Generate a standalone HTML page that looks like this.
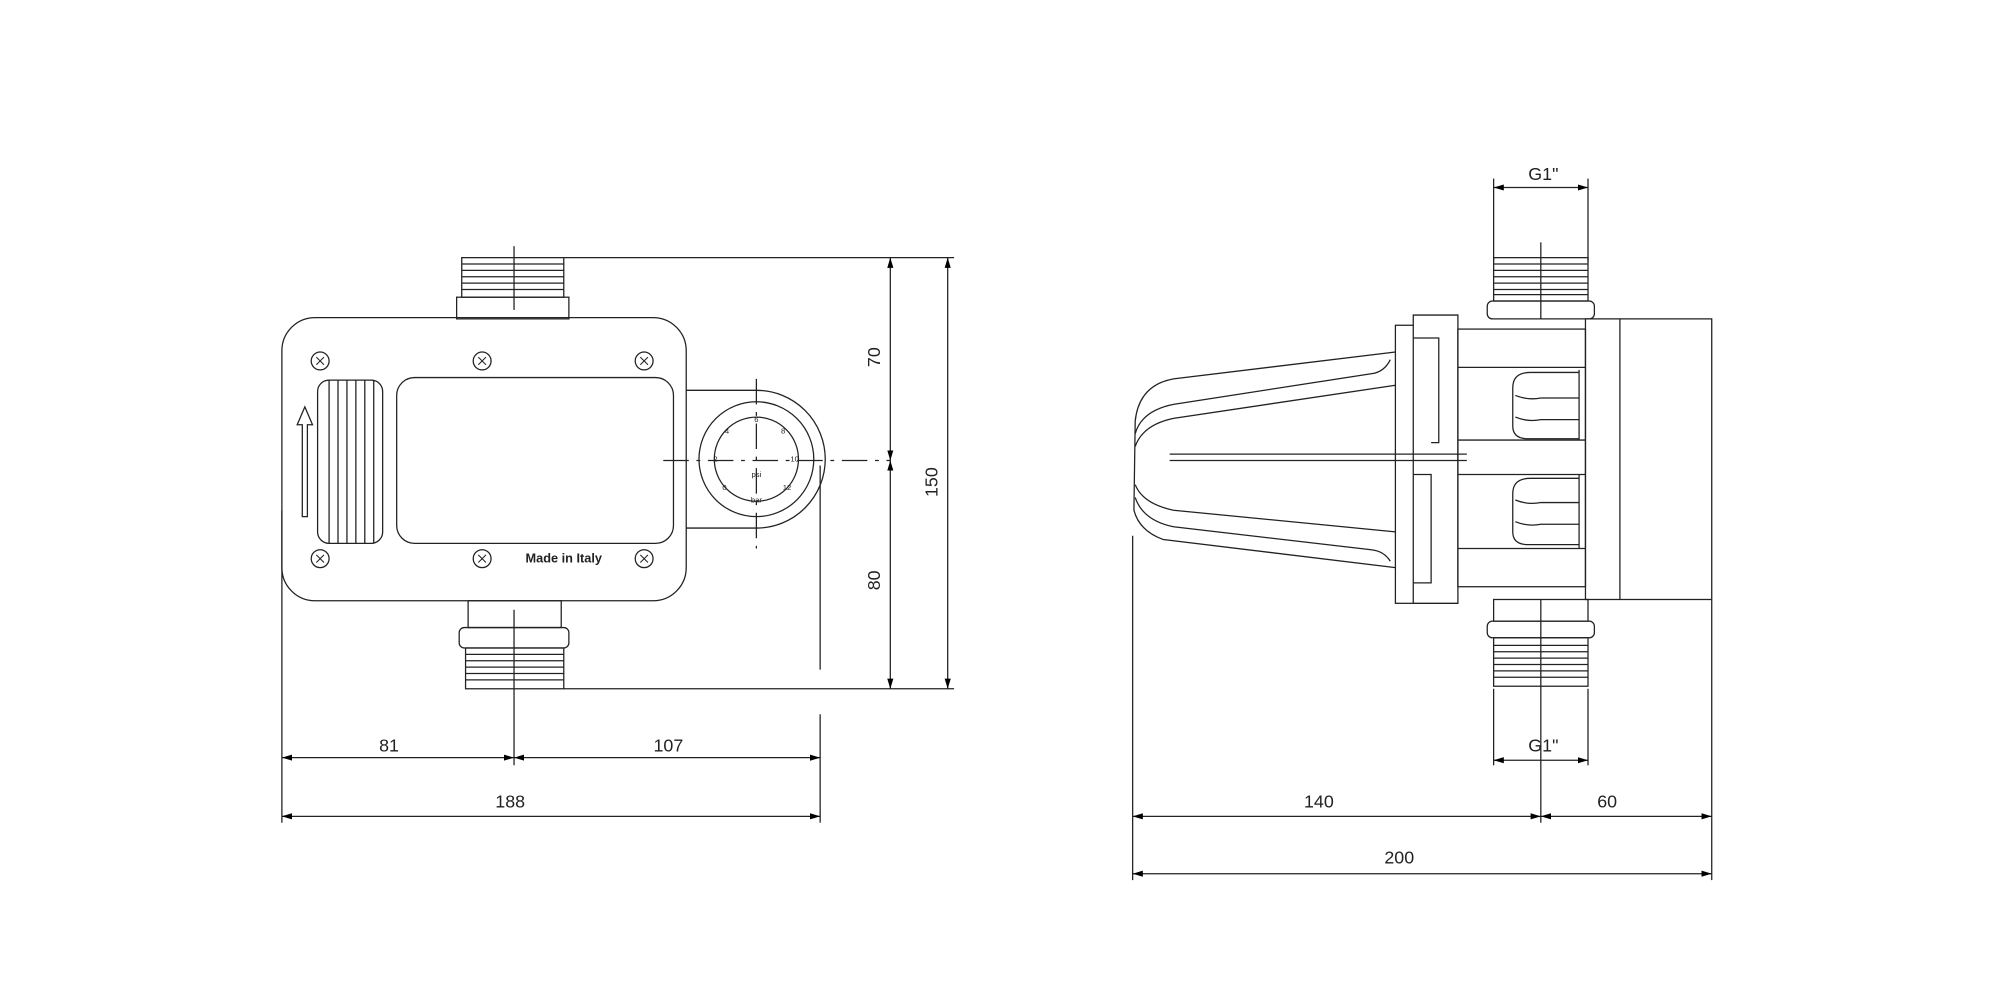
<!DOCTYPE html>
<html><head><meta charset="utf-8"><style>html,body{margin:0;padding:0;background:#fff}svg{display:block}</style></head><body>
<svg width="2000" height="1000" viewBox="0 0 1568 784" xmlns="http://www.w3.org/2000/svg" font-family="Liberation Sans, sans-serif">
<defs>
<marker id="a" viewBox="0 0 10 10" refX="10" refY="5" markerWidth="8" markerHeight="8" orient="auto-start-reverse" markerUnits="userSpaceOnUse"><path d="M0,2 L10,5 L0,8 z" fill="#000"/></marker>
</defs>
<g fill="none" stroke="#222" stroke-width="1">
<!-- LEFT VIEW -->
<!-- top thread -->
<rect x="358" y="233" width="88" height="17"/>
<rect x="362" y="202" width="80" height="31"/>
<path d="M362 207h80M362 212h80M362 217h80M362 222h80M362 227h80"/>
<line x1="403" y1="193" x2="403" y2="243"/>
<!-- body -->
<rect x="221" y="249" width="317" height="222" rx="26"/>
<g>
<circle cx="251" cy="283" r="7"/><circle cx="378" cy="283" r="7"/><circle cx="505" cy="283" r="7"/>
<circle cx="251" cy="438" r="7"/><circle cx="378" cy="438" r="7"/><circle cx="505" cy="438" r="7"/>
</g>
<g stroke-width="0.8">
<path d="M248 280l6 6M254 280l-6 6M375 280l6 6M381 280l-6 6M502 280l6 6M508 280l-6 6M248 435l6 6M254 435l-6 6M375 435l6 6M381 435l-6 6M502 435l6 6M508 435l-6 6"/>
</g>
<rect x="249" y="298" width="51" height="128" rx="9"/>
<path d="M258 298v128M265 298v128M272 298v128M279 298v128M286 298v128M293 298v128"/>
<rect x="311" y="296" width="217" height="130" rx="14"/>
<path d="M237 405v-72h-4l6-14 6 14h-4v72z"/>
<!-- dial housing -->
<path d="M538 306h55a54 54 0 0 1 0 108h-55"/>
<circle cx="593" cy="360" r="45"/>
<circle cx="593" cy="360" r="33"/>
<line x1="593" y1="297" x2="593" y2="430" stroke-dasharray="20 6 3 6"/>
<line x1="520" y1="361" x2="698" y2="361" stroke-dasharray="20 6 3 6"/>
<!-- bottom thread -->
<rect x="367" y="471" width="73" height="21"/>
<rect x="360" y="492" width="86" height="16" rx="4"/>
<rect x="365" y="508" width="77" height="32"/>
<path d="M365 513h77M365 518h77M365 523h77M365 528h77M365 533h77"/>
<line x1="403" y1="478" x2="403" y2="600"/>
<!-- dims left -->
<line x1="442" y1="202" x2="748" y2="202"/>
<line x1="442" y1="540" x2="748" y2="540"/>
<line x1="698" y1="202" x2="698" y2="361" marker-start="url(#a)" marker-end="url(#a)"/>
<line x1="698" y1="361" x2="698" y2="540" marker-start="url(#a)" marker-end="url(#a)"/>
<line x1="743" y1="202" x2="743" y2="540" marker-start="url(#a)" marker-end="url(#a)"/>
<line x1="643" y1="365" x2="643" y2="525"/>
<line x1="643" y1="560" x2="643" y2="645"/>
<line x1="221" y1="400" x2="221" y2="645"/>
<line x1="221" y1="594" x2="403" y2="594" marker-start="url(#a)" marker-end="url(#a)"/>
<line x1="403" y1="594" x2="643" y2="594" marker-start="url(#a)" marker-end="url(#a)"/>
<line x1="221" y1="640" x2="643" y2="640" marker-start="url(#a)" marker-end="url(#a)"/>

<!-- RIGHT VIEW -->
<line x1="1171" y1="140" x2="1171" y2="205"/>
<line x1="1245" y1="140" x2="1245" y2="205"/>
<line x1="1171" y1="147" x2="1245" y2="147" marker-start="url(#a)" marker-end="url(#a)"/>
<rect x="1171" y="202" width="74" height="34"/>
<path d="M1171 207h74M1171 212h74M1171 217h74M1171 222h74M1171 227h74M1171 231h74"/>
<rect x="1166" y="236" width="84" height="14" rx="4"/>
<line x1="1208" y1="190" x2="1208" y2="250"/>
<!-- cone -->
<path d="M1094 276 L920 297 Q893 302 890 330 L889 400 Q893 416 912 423 L1094 445"/>
<path d="M1090 282 Q1085 292 1075 293 L920 317 Q895 322 890 340"/>
<path d="M1094 302 L920 328 Q896 333 890 350"/>
<path d="M1094 417 L920 400 Q896 395 890 380"/>
<path d="M1090 440 Q1085 432 1075 431 L920 413 Q896 408 890 390"/>
<path d="M917 356h233M917 361h233"/>
<!-- flange -->
<rect x="1094" y="255" width="14" height="218"/>
<path d="M1108 255 V247 h35 V473 h-35"/>
<path d="M1108 265h20v82h-6M1108 372h14v85h-14"/>
<!-- body -->
<rect x="1143" y="258" width="100" height="202"/>
<path d="M1143 288h100M1143 345h100M1143 372h100M1143 430h100"/>
<path d="M1238 292h-38q-14 0-14 12v30q0 10 12 10h40M1188 310q10 4 20 2h30M1188 327q10 4 20 2h30"/>
<path d="M1238 375h-38q-14 0-14 12v30q0 10 12 10h40M1188 392q10 4 20 2h30M1188 409q10 4 20 2h30"/>
<path d="M1238 290v55M1238 372v58"/>
<rect x="1243" y="250" width="99" height="220"/>
<line x1="1270" y1="250" x2="1270" y2="470"/>
<!-- bottom thread right -->
<rect x="1171" y="470" width="74" height="17"/>
<rect x="1166" y="487" width="84" height="13" rx="4"/>
<rect x="1171" y="500" width="74" height="38"/>
<path d="M1171 506h74M1171 511h74M1171 516h74M1171 521h74M1171 526h74M1171 531h74"/>
<line x1="1208" y1="470" x2="1208" y2="645"/>
<line x1="1171" y1="540" x2="1171" y2="600"/>
<line x1="1245" y1="540" x2="1245" y2="600"/>
<line x1="1171" y1="596" x2="1245" y2="596" marker-start="url(#a)" marker-end="url(#a)"/>
<line x1="888" y1="420" x2="888" y2="690"/>
<line x1="1342" y1="470" x2="1342" y2="690"/>
<line x1="888" y1="640" x2="1208" y2="640" marker-start="url(#a)" marker-end="url(#a)"/>
<line x1="1208" y1="640" x2="1342" y2="640" marker-start="url(#a)" marker-end="url(#a)"/>
<line x1="888" y1="685" x2="1342" y2="685" marker-start="url(#a)" marker-end="url(#a)"/>
</g>
<g fill="#222" font-size="14" text-anchor="middle">
<text x="305" y="589">81</text>
<text x="524" y="589">107</text>
<text x="400" y="633">188</text>
<text transform="translate(690,280) rotate(-90)">70</text>
<text transform="translate(690,455) rotate(-90)">80</text>
<text transform="translate(735,378) rotate(-90)">150</text>
<text x="1210" y="141">G1"</text>
<text x="1210" y="589">G1"</text>
<text x="1034" y="633">140</text>
<text x="1260" y="633">60</text>
<text x="1097" y="677">200</text>
<text x="442" y="441" font-size="10" font-weight="bold">Made in Italy</text>
<g font-size="6">
<text x="593" y="331">6</text><text x="570" y="340">4</text><text x="614" y="340">8</text>
<text x="561" y="362">2</text><text x="623" y="362">10</text>
<text x="568" y="384">0</text><text x="617" y="384">12</text>
<text x="593" y="374">psi</text><text x="593" y="394">bar</text>
</g>
</g>
</svg>
</body></html>
